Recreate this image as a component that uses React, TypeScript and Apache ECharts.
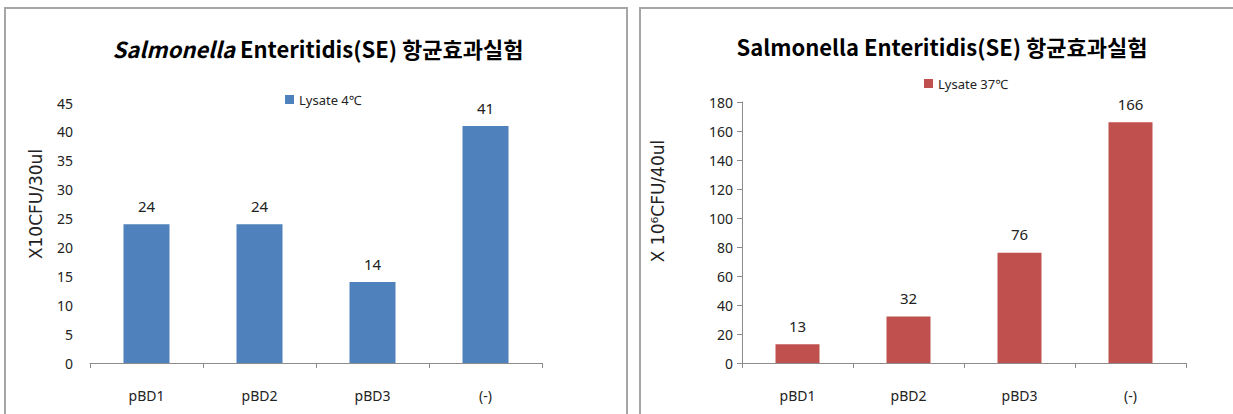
import React, { useEffect, useRef } from "react";
import * as echarts from "echarts";

const categories = ["pBD1", "pBD2", "pBD3", "(-)"];
const lysate4Values = [24, 24, 14, 41];
const lysate37Values = [13, 32, 76, 166];
const leftSeriesName = "Lysate 4℃";
const rightSeriesName = "Lysate 37℃";
const leftYName = "X10CFU/30ul";
const rightYName = "X 10⁶CFU/40ul";
const titleRest = " Enteritidis(SE) 항균효과실험";

const FONT = "'Noto Sans', 'Noto Sans CJK KR', sans-serif";
const NAME_FONT = "'DejaVu Sans', 'Noto Sans', sans-serif";
const TITLE_FONT = "'Noto Sans CJK KR', 'Noto Sans', sans-serif";

export default function App() {
  const ref = useRef<HTMLDivElement>(null);
  useEffect(() => {
    if (!ref.current) return;
    const chart = echarts.init(ref.current, undefined, { renderer: "svg" });
    const axisLineStyle = { color: "#8c8c8c", width: 1 };
    const catAxis = (gridIndex: number) => ({
      type: "category",
      gridIndex,
      data: categories,
      axisLine: { show: true, lineStyle: axisLineStyle },
      axisTick: { show: true, length: 5, lineStyle: axisLineStyle, alignWithLabel: false },
      axisLabel: { color: "#222", fontSize: 14, fontFamily: FONT, margin: 25 },
      splitLine: { show: false },
    });
    chart.setOption({
      animation: false,
      backgroundColor: "#ffffff",
      title: [
        {
          text: "{i|Salmonella}{n|" + titleRest + "}",
          left: 313,
          top: 32,
          textAlign: "center",
          textStyle: {
            rich: {
              i: { fontSize: 22, fontWeight: "bold", fontStyle: "italic", fontFamily: TITLE_FONT, color: "#000" },
              n: { fontSize: 22, fontWeight: "bold", fontFamily: TITLE_FONT, color: "#000" },
            },
          },
        },
        {
          text: "Salmonella" + titleRest,
          left: 937,
          top: 30,
          textAlign: "center",
          textStyle: { fontSize: 22, fontWeight: "bold", fontFamily: TITLE_FONT, color: "#000" },
        },
      ],
      legend: [
        {
          data: [leftSeriesName],
          left: 280,
          top: 88,
          itemWidth: 9,
          itemHeight: 9,
          itemGap: 4,
          icon: "rect",
          textStyle: { fontSize: 13, fontFamily: FONT, color: "#222" },
        },
        {
          data: [rightSeriesName],
          left: 919,
          top: 72,
          itemWidth: 9,
          itemHeight: 9,
          icon: "rect",
          textStyle: { fontSize: 13, fontFamily: FONT, color: "#222" },
        },
      ],
      grid: [
        { left: 90, right: 1233 - 542, top: 103, bottom: 414 - 363 },
        { left: 742, right: 1233 - 1186, top: 102, bottom: 414 - 363 },
      ],
      xAxis: [catAxis(0), catAxis(1)],
      yAxis: [
        {
          type: "value",
          gridIndex: 0,
          min: 0,
          max: 45,
          interval: 5,
          axisLine: { show: false },
          axisTick: { show: false },
          splitLine: { show: false },
          axisLabel: { color: "#222", fontSize: 14, fontFamily: FONT, margin: 17 },
        },
        {
          type: "value",
          gridIndex: 1,
          min: 0,
          max: 180,
          interval: 20,
          axisLine: { show: true, lineStyle: axisLineStyle },
          axisTick: { show: true, length: 5, lineStyle: axisLineStyle },
          splitLine: { show: false },
          axisLabel: { color: "#222", fontSize: 14, fontFamily: FONT, margin: 9 },
        },
      ],
      series: [
        {
          name: leftSeriesName,
          type: "bar",
          xAxisIndex: 0,
          yAxisIndex: 0,
          data: lysate4Values,
          barWidth: 46,
          itemStyle: { color: "#4F81BD" },
          label: { show: true, position: "top", distance: 11, fontSize: 15, fontFamily: FONT, color: "#222" },
        },
        {
          name: rightSeriesName,
          type: "bar",
          xAxisIndex: 1,
          yAxisIndex: 1,
          data: lysate37Values,
          barWidth: 44,
          itemStyle: { color: "#C0504D" },
          label: { show: true, position: "top", distance: 11, fontSize: 15, fontFamily: FONT, color: "#222" },
        },
      ],
      graphic: [
        {
          type: "polyline",
          shape: { points: [[5, 414], [5, 8], [627, 8], [627, 414]] },
          style: { stroke: "#a6a6a6", lineWidth: 2, fill: "none" },
          silent: true,
        },
        {
          type: "polyline",
          shape: { points: [[640, 414], [640, 8], [1233, 8]] },
          style: { stroke: "#a6a6a6", lineWidth: 2, fill: "none" },
          silent: true,
        },
        {
          type: "text",
          x: 36,
          y: 204,
          rotation: Math.PI / 2,
          style: {
            text: leftYName,
            align: "center",
            verticalAlign: "middle",
            fontSize: 17,
            fontFamily: NAME_FONT,
            fill: "#222",
          },
          silent: true,
        },
        {
          type: "text",
          x: 658,
          y: 201,
          rotation: Math.PI / 2,
          style: {
            text: rightYName,
            align: "center",
            verticalAlign: "middle",
            fontSize: 17,
            fontFamily: NAME_FONT,
            fill: "#222",
          },
          silent: true,
        },
      ],
    });
    return () => chart.dispose();
  }, []);
  return (
    <div
      ref={ref}
      style={{ position: "fixed", left: 0, top: 0, width: 1233, height: 414, background: "#fff" }}
    />
  );
}
